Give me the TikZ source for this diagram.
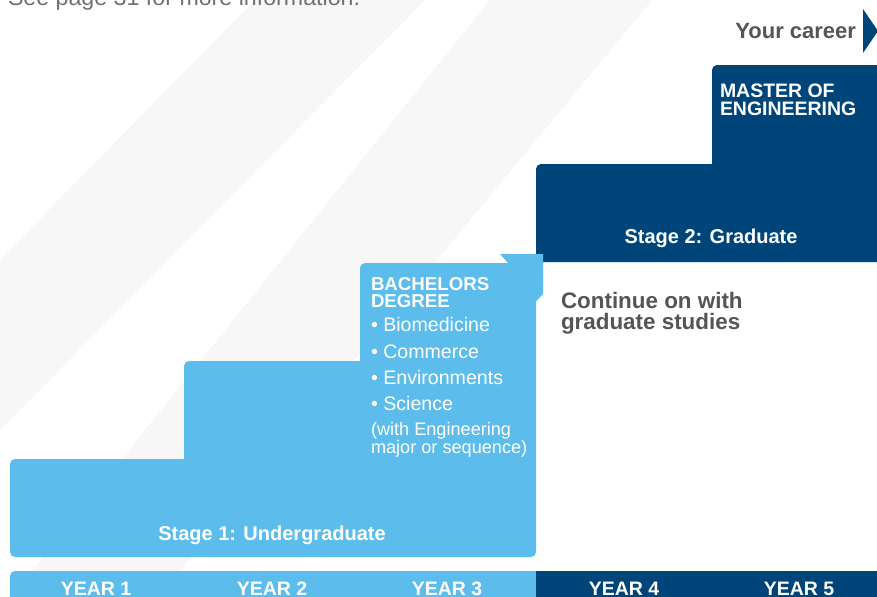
\documentclass[tikz,border=0pt]{standalone}
\usepackage{fontspec}
\setmainfont{Liberation Sans}
\definecolor{lb}{HTML}{5CBCEC}
\definecolor{db}{HTML}{00457A}
\definecolor{gt}{HTML}{555555}
\definecolor{bgs}{HTML}{F7F7F7}
\definecolor{tt}{HTML}{707070}
\begin{document}
\begin{tikzpicture}[x=0.75pt,y=-0.75pt,
  every node/.style={inner sep=0pt, outer sep=0pt},
  yearlbl/.style={text=white, font=\fontsize{14.6}{14.6}\selectfont\bfseries, anchor=base},
  stagelbl/.style={text=white, font=\fontsize{15}{15}\selectfont\bfseries, anchor=base},
  degtitle/.style={text=white, font=\fontsize{14}{12}\selectfont\bfseries, anchor=base west},
  itemlbl/.style={text=white, font=\fontsize{14.7}{14.7}\selectfont, anchor=base west},
  notelbl/.style={text=white, font=\fontsize{13.6}{13.6}\selectfont, anchor=base west},
  greylbl/.style={text=gt, font=\fontsize{16.8}{16.8}\selectfont\bfseries, anchor=base west},
  mastlbl/.style={text=white, font=\fontsize{14.6}{12}\selectfont\bfseries, anchor=base west},
  rc/.style={rounded corners=3.75pt}]
\useasboundingbox (0,0) rectangle (877,596);
\clip (0,0) rectangle (877,596);
\fill[white] (0,0) rectangle (877,596);
% background stripes
\fill[bgs] (255,0) -- (425,0) -- (-10,440) -- (-10,270) -- cycle;
\fill[bgs] (490,0) -- (652,0) -- (159,596) -- (12,596) -- cycle;
% top text (cut off)
\node[text=tt, font=\fontsize{17.4}{17.4}\selectfont, anchor=base west] (see) at (8,5) {See page 31 for more information.};
% light blue staircase
\fill[lb, rc] (10,459) rectangle (536,557);
\fill[lb, rc] (184,361) rectangle (536,470);
\fill[lb, rc] (360,263) rectangle (536,370);
% dark blue staircase
\fill[db, rc] (536,164) rectangle (900,262);
\fill[db, rc] (712,65) rectangle (900,200);
% folded tab
\fill[lb] (500,254) -- (543,254) -- (543,294) -- (535,302) -- (535,263) -- (508,263) -- cycle;
\fill[lb] (515,260) rectangle (536,310);
% year bar
\fill[lb, rc] (10,571) rectangle (560,610);
\fill[db] (536,571) rectangle (900,610);
% career arrow
\fill[db] (863,9) -- (878,31) -- (863,53) -- cycle;
% labels
\node[yearlbl] (y1) at (96,595) {YEAR 1};
\node[yearlbl] (y2) at (272,595) {YEAR 2};
\node[yearlbl] (y3) at (447,595) {YEAR 3};
\node[yearlbl] (y4) at (624,595) {YEAR 4};
\node[yearlbl] (y5) at (799,595) {YEAR 5};
\node[stagelbl] (s1) at (272,540) {Stage 1: Undergraduate};
\node[stagelbl] (s2) at (711,243) {Stage 2: Graduate};
\node[text=gt, font=\fontsize{16.5}{16.5}\selectfont\bfseries, anchor=base east] (career) at (856,38) {Your career};
\node[mastlbl] (m1) at (720,97) {MASTER OF};
\node[mastlbl] (m2) at (720,115) {ENGINEERING};
\node[degtitle] (b1) at (371,290) {BACHELORS};
\node[degtitle] (b2) at (371,307) {DEGREE};
\node[itemlbl] (i1) at (371,331) {• Biomedicine};
\node[itemlbl] (i2) at (371,358) {• Commerce};
\node[itemlbl] (i3) at (371,384) {• Environments};
\node[itemlbl] (i4) at (371,410) {• Science};
\node[notelbl] (n1) at (371,435) {(with Engineering};
\node[notelbl] (n2) at (371,453) {major or sequence)};
\node[greylbl] (c1) at (561,308) {Continue on with};
\node[greylbl] (c2) at (561,329) {graduate studies};
\end{tikzpicture}
\end{document}
